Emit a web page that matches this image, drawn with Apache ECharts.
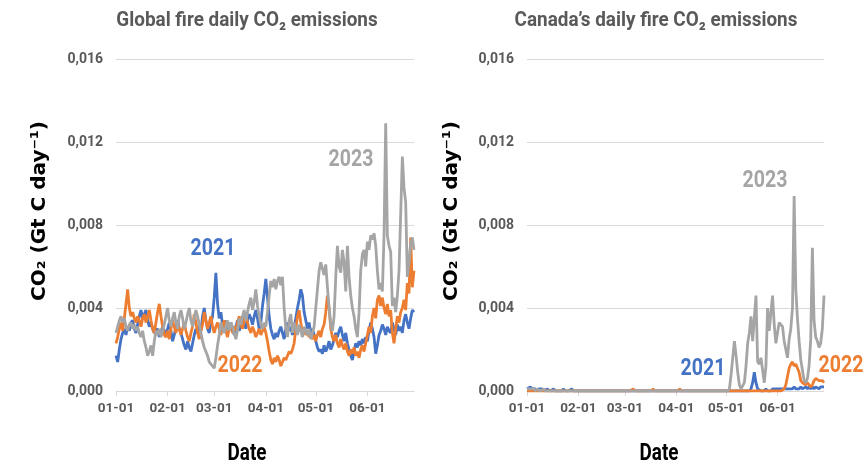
<!DOCTYPE html>
<html>
<head>
<meta charset="utf-8">
<script src="https://cdn.jsdelivr.net/npm/echarts@6/dist/echarts.min.js"></script>
<style>html,body{margin:0;padding:0;background:#fff;}#c{width:863px;height:467px;}</style>
</head>
<body>
<div id="c"></div>
<script>
// ---- data (Gt C per day), daily from 01-01 to 06-29 ----
const yTicks = ['0,000','0,004','0,008','0,012','0,016'];
const monthTicks = ['01-01','02-01','03-01','04-01','05-01','06-01'];

const global2021 = [
.0017,.0014,.0020,.0025,.0028,.0030,.0027,.0031,.0029,.0033,
.0034,.0030,.0028,.0032,.0036,.0039,.0035,.0037,.0039,.0034,
.0031,.0033,.0030,.0028,.0029,.0030,.0026,.0028,.0031,.0029,
.0027,.0030,.0033,.0029,.0024,.0027,.0031,.0034,.0030,.0028,
.0025,.0022,.0020,.0024,.0021,.0019,.0023,.0027,.0030,.0028,
.0032,.0029,.0036,.0040,.0034,.0030,.0028,.0033,.0036,.0045,
.0057,.0042,.0035,.0038,.0032,.0030,.0034,.0031,.0029,.0033,
.0030,.0027,.0031,.0034,.0029,.0032,.0036,.0033,.0030,.0034,
.0037,.0035,.0032,.0036,.0039,.0035,.0030,.0033,.0041,.0047,
.0054,.0045,.0036,.0030,.0027,.0025,.0028,.0026,.0029,.0031,
.0028,.0025,.0030,.0033,.0029,.0031,.0027,.0030,.0035,.0040,
.0044,.0049,.0046,.0038,.0034,.0030,.0033,.0028,.0030,.0027,
.0024,.0021,.0019,.0020,.0018,.0022,.0019,.0021,.0024,.0020,
.0022,.0025,.0028,.0026,.0029,.0031,.0027,.0024,.0028,.0023,
.0020,.0017,.0015,.0019,.0023,.0021,.0024,.0022,.0025,.0023,
.0026,.0024,.0029,.0033,.0030,.0026,.0018,.0022,.0027,.0029,
.0032,.0030,.0027,.0031,.0029,.0028,.0033,.0030,.0027,.0032,
.0029,.0031,.0028,.0034,.0037,.0033,.0030,.0035,.0039,.0038];

const global2022 = [
.0023,.0026,.0030,.0033,.0029,.0035,.0042,.0049,.0040,.0036,
.0038,.0035,.0033,.0036,.0034,.0031,.0035,.0037,.0033,.0036,
.0039,.0034,.0030,.0028,.0033,.0038,.0042,.0036,.0031,.0027,
.0026,.0029,.0025,.0030,.0034,.0031,.0028,.0032,.0030,.0027,
.0030,.0033,.0029,.0026,.0024,.0028,.0031,.0037,.0033,.0028,
.0025,.0029,.0032,.0038,.0034,.0030,.0033,.0036,.0031,.0028,
.0031,.0033,.0030,.0027,.0031,.0034,.0029,.0026,.0030,.0032,
.0028,.0031,.0029,.0033,.0036,.0032,.0030,.0034,.0037,.0033,
.0030,.0028,.0031,.0029,.0026,.0028,.0030,.0027,.0029,.0031,
.0028,.0024,.0019,.0015,.0013,.0016,.0014,.0017,.0015,.0012,
.0014,.0016,.0015,.0017,.0019,.0018,.0020,.0023,.0030,.0036,
.0039,.0033,.0028,.0030,.0027,.0029,.0026,.0028,.0025,.0027,
.0024,.0027,.0029,.0026,.0030,.0032,.0038,.0046,.0040,.0030,
.0026,.0024,.0027,.0023,.0021,.0025,.0022,.0020,.0023,.0019,
.0017,.0020,.0018,.0021,.0017,.0019,.0016,.0020,.0022,.0019,
.0023,.0027,.0031,.0028,.0036,.0040,.0035,.0044,.0046,.0041,
.0045,.0040,.0037,.0042,.0036,.0039,.0028,.0023,.0030,.0036,
.0033,.0038,.0040,.0044,.0039,.0052,.0047,.0074,.0050,.0058];

const global2023 = [
.0028,.0031,.0034,.0036,.0033,.0035,.0031,.0029,.0032,.0033,
.0030,.0032,.0029,.0031,.0028,.0026,.0029,.0024,.0021,.0017,
.0019,.0022,.0017,.0024,.0029,.0027,.0030,.0026,.0029,.0032,
.0036,.0040,.0034,.0031,.0035,.0038,.0033,.0030,.0036,.0039,
.0035,.0030,.0033,.0037,.0040,.0034,.0031,.0035,.0039,.0036,
.0032,.0028,.0024,.0021,.0019,.0017,.0014,.0013,.0012,.0011,
.0016,.0022,.0027,.0033,.0030,.0028,.0031,.0034,.0029,.0033,
.0031,.0028,.0025,.0029,.0035,.0032,.0036,.0039,.0034,.0038,
.0042,.0045,.0039,.0043,.0049,.0041,.0036,.0032,.0030,.0033,
.0031,.0038,.0046,.0053,.0050,.0054,.0049,.0053,.0055,.0051,
.0055,.0040,.0030,.0026,.0034,.0037,.0028,.0033,.0030,.0027,
.0032,.0029,.0026,.0031,.0029,.0027,.0030,.0025,.0028,.0031,
.0040,.0049,.0058,.0062,.0059,.0056,.0061,.0050,.0040,.0032,
.0029,.0036,.0055,.0070,.0060,.0057,.0068,.0062,.0048,.0070,
.0055,.0046,.0040,.0036,.0030,.0026,.0038,.0058,.0066,.0068,
.0060,.0072,.0068,.0075,.0073,.0076,.0070,.0058,.0049,.0052,
.0048,.0075,.0129,.0075,.0070,.0067,.0041,.0045,.0038,.0046,
.0058,.0085,.0113,.0098,.0091,.0055,.0062,.0071,.0074,.0068];

const canada2021 = [
.0001,.0001,.0002,.0001,.0001,.0001,0,.0001,.0001,.0001,
.0001,0,.0001,.0001,0,0,.0001,0,0,0,
0,0,.0001,0,0,0,0,.0001,0,0,
0,0,0,0,0,0,0,0,0,0,
0,0,0,0,0,0,0,0,0,0,
0,0,0,0,0,0,0,0,0,0,
0,0,0,0,0,0,0,0,0,0,
0,0,0,0,0,0,0,0,0,0,
0,0,0,0,0,0,0,0,0,0,
0,0,0,0,0,0,0,0,0,0,
0,0,0,0,0,0,0,0,0,0,
0,0,0,0,0,0,0,0,0,0,
0,0,0,0,0,0,0,0,0,0,
0,0,0,0,0,.0001,.0004,.0009,.0004,.0001,
.0001,0,0,0,.0001,0,0,0,.0001,.0001,
.0001,.0001,.0001,.0001,.0001,.0001,.0001,.0001,.0001,.0001,
.0001,.0002,.0001,.0001,.0001,.0002,.0001,.0001,.0002,.0001,
.0002,.0001,.0002,.0001,.0002,.0002,.0001,.0002,.0002,.0002];

const canada2022 = [
0,0,0,0,0,0,0,0,0,0,
0,0,0,0,0,0,0,0,0,0,
0,0,0,0,0,0,0,0,0,0,
0,0,0,0,0,0,0,0,0,0,
0,0,0,0,0,0,0,0,0,0,
0,0,0,0,0,0,0,0,0,0,
0,0,0,0,.0001,0,0,0,0,0,
0,0,0,0,0,0,.0001,0,0,0,
0,0,0,0,0,0,0,0,0,0,
0,0,.0001,0,0,0,0,0,0,0,
0,0,0,0,0,0,0,0,0,0,
0,0,0,0,0,0,0,0,0,0,
0,0,0,0,0,0,0,0,0,0,
0,0,0,0,0,0,0,0,0,0,
0,0,0,0,0,0,0,0,0,0,
0,0,0,0,0,.0001,.0003,.0007,.0011,.0013,
.0014,.0012,.0013,.0011,.0009,.0005,.0004,.0004,.0003,.0004,
.0003,.0002,.0003,.0005,.0006,.0006,.0005,.0005,.0005,.0004];

const canada2023 = [
.0001,.0001,.0001,.0001,.0001,0,.0001,.0001,0,0,
.0001,0,0,0,0,0,0,0,0,0,
0,0,0,0,0,0,0,0,0,0,
0,0,0,0,0,0,0,0,0,0,
0,0,0,0,0,0,0,0,0,0,
0,0,0,0,0,0,0,0,0,0,
0,0,0,0,0,0,0,0,0,0,
0,0,0,0,0,0,0,0,0,0,
0,0,0,0,0,0,0,0,0,0,
0,0,0,0,0,0,0,0,0,0,
0,0,0,0,0,0,0,0,0,0,
0,0,0,0,0,0,0,0,0,0,
0,0,.0001,.0008,.0016,.0024,.0017,.0009,.0003,.0001,
.0001,.0004,.0012,.0023,.0028,.0036,.0024,.0035,.0046,.0014,
.0013,.0016,.0010,.0004,.0012,.0040,.0029,.0038,.0046,.0032,
.0023,.0028,.0033,.0032,.0031,.0024,.0020,.0016,.0025,.0030,
.0040,.0094,.0049,.0035,.0024,.0015,.0010,.0005,.0004,.0006,
.0012,.0025,.0069,.0034,.0026,.0024,.0021,.0023,.0030,.0046];

// category dates 01-01 ... 06-29
const dates = [];
(function(){
  const d = new Date(Date.UTC(2023,0,1));
  for (let i = 0; i < global2021.length; i++) {
    const m = String(d.getUTCMonth()+1).padStart(2,'0');
    const day = String(d.getUTCDate()).padStart(2,'0');
    dates.push(m + '-' + day);
    d.setUTCDate(d.getUTCDate()+1);
  }
})();

const C21 = '#4472C4', C22 = '#ED7D31', C23 = '#A5A5A5';
const FONT = 'Roboto, "Liberation Sans", sans-serif';
const WIDE = '"DejaVu Sans", Verdana, sans-serif';

function isMonthStart(i, v){ return monthTicks.indexOf(v) >= 0; }

function xAxisCfg(gi){
  return {
    type:'category', gridIndex:gi, data:dates, boundaryGap:false,
    axisLine:{show:true, lineStyle:{color:'#d9d9d9', width:1}},
    axisTick:{show:true, length:5, lineStyle:{color:'#d9d9d9'}, interval:isMonthStart},
    axisLabel:{interval:isMonthStart, color:'#595959', fontFamily:FONT, fontWeight:'bold',
      fontSize:13.5, margin:11},
    splitLine:{show:false}
  };
}
function yAxisCfg(gi){
  return {
    type:'value', gridIndex:gi, min:0, max:0.016, interval:0.004,
    axisLine:{show:false}, axisTick:{show:false},
    axisLabel:{color:'#595959', fontFamily:FONT, fontWeight:'bold', fontSize:14, margin:13,
      formatter:function(v){ return yTicks[Math.round(v/0.004)]; }},
    splitLine:{show:true, lineStyle:{color:'#d9d9d9', width:1}}
  };
}
function line(name, data, color, gi){
  return {name:name, type:'line', xAxisIndex:gi, yAxisIndex:gi, data:data,
    showSymbol:false, symbol:'none', lineStyle:{color:color, width:2.8}, itemStyle:{color:color},
    animation:false};
}
function label(text, x, y, color){
  return {type:'text', x:x, y:y, scaleX:0.85, style:{text:text, fill:color,
    font:'bold 23px ' + FONT, align:'center', verticalAlign:'middle'}, z:10};
}
function title(text, x){
  return {type:'text', x:x, y:21, scaleX:0.9, style:{text:text, fill:'#595959',
    font:'bold 21px ' + FONT, align:'center', verticalAlign:'middle'}};
}
function yName(x){
  return {type:'text', x:x, y:211, rotation:Math.PI/2, style:{text:'CO₂ (Gt C day⁻¹)', fill:'#000',
    font:'bold 20px ' + WIDE, align:'center', verticalAlign:'middle'}};
}
function xName(x){
  return {type:'text', x:x, y:454, scaleX:0.82, style:{text:'Date', fill:'#000',
    font:'bold 23px ' + FONT, align:'center', verticalAlign:'middle'}};
}

const chart = echarts.init(document.getElementById('c'), null, {renderer:'canvas'});
chart.setOption({
  animation:false,
  backgroundColor:'#fff',
  grid:[
    {left:116, right:449, top:59, bottom:76, containLabel:false},
    {left:527, right:39, top:59, bottom:76, containLabel:false}
  ],
  xAxis:[xAxisCfg(0), xAxisCfg(1)],
  yAxis:[yAxisCfg(0), yAxisCfg(1)],
  series:[
    line('2021', global2021, C21, 0),
    line('2022', global2022, C22, 0),
    line('2023', global2023, C23, 0),
    line('2021', canada2021, C21, 1),
    line('2022', canada2022, C22, 1),
    line('2023', canada2023, C23, 1)
  ],
  graphic:[
    title('Global fire daily CO₂ emissions', 247),
    title('Canada’s daily fire CO₂ emissions', 656),
    yName(40), yName(452),
    xName(247), xName(659),
    label('2021', 213, 249, C21),
    label('2022', 240, 366, C22),
    label('2023', 351, 160, C23),
    label('2023', 765, 181, C23),
    label('2021', 703, 369, C21),
    label('2022', 841, 366, C22)
  ]
});
</script>
</body>
</html>
